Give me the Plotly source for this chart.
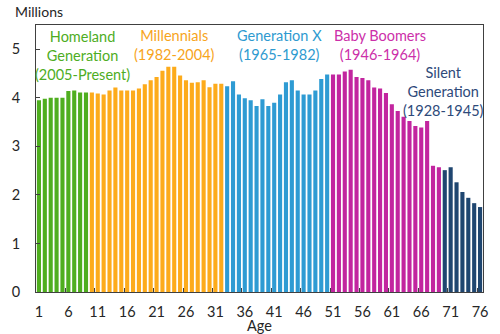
import plotly.graph_objects as go

# Population by single year of age (millions), grouped by generation
homeland_ages = list(range(1, 10))
homeland_pop = [3.95, 3.98, 4.00, 4.00, 4.00, 4.14, 4.15, 4.11, 4.11]

millennial_ages = list(range(10, 33))
millennial_pop = [4.11, 4.09, 4.07, 4.15, 4.21, 4.15, 4.15, 4.15, 4.19, 4.28,
                  4.36, 4.43, 4.56, 4.64, 4.64, 4.46, 4.36, 4.31, 4.32, 4.36,
                  4.22, 4.29, 4.29]

genx_ages = list(range(33, 51))
genx_pop = [4.24, 4.34, 4.07, 3.99, 3.95, 3.83, 3.97, 3.83, 3.90, 4.07,
            4.32, 4.36, 4.15, 4.07, 4.07, 4.15, 4.39, 4.48]

boomer_ages = list(range(51, 70))
boomer_pop = [4.48, 4.48, 4.54, 4.58, 4.43, 4.41, 4.36, 4.21, 4.19, 4.10,
              3.87, 3.73, 3.61, 3.52, 3.42, 3.39, 3.52, 2.60, 2.57]

silent_ages = list(range(70, 77))
silent_pop = [2.51, 2.57, 2.26, 2.06, 1.94, 1.83, 1.75]

x_tick_vals = list(range(1, 77, 5))
y_tick_vals = [0, 1, 2, 3, 4, 5]

FONT = "Lato, Calibri, Carlito, 'Open Sans', sans-serif"
AXIS_COLOR = "#404040"
TEXT_COLOR = "#262626"

groups = [
    ("Homeland Generation", homeland_ages, homeland_pop, "#4FAE1F"),
    ("Millennials", millennial_ages, millennial_pop, "#FDAB1B"),
    ("Generation X", genx_ages, genx_pop, "#2E9BD3"),
    ("Baby Boomers", boomer_ages, boomer_pop, "#C2259F"),
    ("Silent Generation", silent_ages, silent_pop, "#1F4670"),
]

fig = go.Figure()
for name, ages, pop, color in groups:
    fig.add_trace(go.Bar(x=ages, y=pop, name=name, marker_color=color,
                         marker_line_width=0, showlegend=False))

# Generation labels drawn inside the plot area
labels = [
    ("Homeland<br>Generation<br>(2005-Present)", 8.46, 4.88, "#4EAD23"),
    ("Millennials<br>(1982-2004)", 24.0, 5.08, "#F7A41B"),
    ("Generation X<br>(1965-1982)", 41.85, 5.08, "#2E9AD0"),
    ("Baby Boomers<br>(1946-1964)", 59.05, 5.08, "#CC2FA9"),
    ("Silent<br>Generation<br>(1928-1945)", 69.7, 4.13, "#2E4A7A"),
]
for text, lx, ly, color in labels:
    fig.add_annotation(x=lx, y=ly, xref="x", yref="y", text=text,
                       showarrow=False, align="center",
                       font=dict(family=FONT, size=14.5, color=color))

fig.add_annotation(x=-0.052, y=1.05, xref="paper", yref="paper", text="Millions",
                   showarrow=False, xanchor="left", yanchor="middle",
                   font=dict(family=FONT, size=14, color=TEXT_COLOR))

# Axis title placed just below the tick labels
fig.add_annotation(x=0.5, y=-0.124, xref="paper", yref="paper", text="Age",
                   showarrow=False, xanchor="center", yanchor="middle",
                   font=dict(family=FONT, size=14.5, color=TEXT_COLOR))

fig.update_layout(
    width=500, height=334,
    margin=dict(l=32, r=13, t=25, b=42),
    paper_bgcolor="white", plot_bgcolor="white",
    bargap=0.3,
    font=dict(family=FONT, size=14, color=TEXT_COLOR),
)
fig.update_xaxes(
    range=[0.5, 76.5], tickmode="array", tickvals=x_tick_vals,
    ticks="", showgrid=False, zeroline=False,
    showline=True, linecolor=AXIS_COLOR, linewidth=1, mirror=True,
    tickfont=dict(family=FONT, size=14.5, color=TEXT_COLOR),
    ticklabelstandoff=7,
    minor=dict(tickvals=[v + 4.5 for v in x_tick_vals[:-1]], ticks="inside",
               ticklen=4, tickcolor=AXIS_COLOR, showgrid=False),
)
fig.update_yaxes(
    range=[0, 5.5], tickmode="array", tickvals=y_tick_vals,
    ticks="inside", ticklen=4, tickcolor=AXIS_COLOR,
    showgrid=False, zeroline=False,
    showline=True, linecolor=AXIS_COLOR, linewidth=1, mirror=True,
    tickfont=dict(family=FONT, size=14.5, color=TEXT_COLOR),
    ticklabelstandoff=12,
)

fig.write_html("out.html")
